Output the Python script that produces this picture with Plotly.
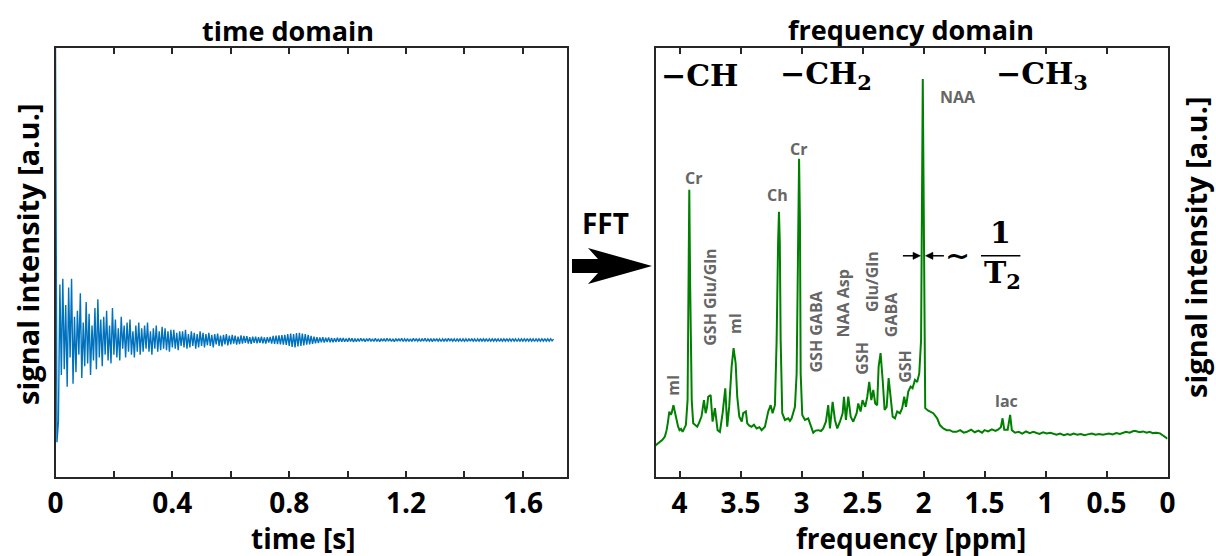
import plotly.graph_objects as go

# ---------------- data ----------------
FID_DT = 0.005  # sampling interval [s]
fid_amp = [
    1.0, -0.35, -0.28, 0.19, -0.12, 0.21, -0.10, 0.12, -0.16, 0.18, -0.06, 0.21, -0.15, 0.08, -0.11, 0.10, -0.05, 0.16, -0.13, 0.06,
    -0.09, 0.13, -0.08, 0.09, -0.12, 0.05, -0.07, 0.11, -0.10, 0.14, -0.06, 0.07, -0.09, 0.08, -0.05, 0.10, -0.07, 0.05, -0.08, 0.11,
    -0.05, 0.07, -0.06, 0.04, -0.07, 0.08, -0.03, 0.05, -0.06, 0.06, -0.04, 0.07, -0.05, 0.03, -0.06, 0.05, -0.04, 0.06, -0.05, 0.04,
    -0.04, 0.05, -0.03, 0.06, -0.04, 0.03, -0.05, 0.04, -0.03, 0.05, -0.04, 0.03, -0.035, 0.045, -0.03, 0.04, -0.035, 0.03, -0.04, 0.035,
    -0.025, 0.035, -0.03, 0.025, -0.035, 0.03, -0.02, 0.03, -0.025, 0.035, -0.03, 0.02, -0.025, 0.03, -0.02, 0.025, -0.03, 0.02, -0.025, 0.03,
    -0.02, 0.025, -0.025, 0.02, -0.018, 0.025, -0.02, 0.018, -0.025, 0.02, -0.015, 0.022, -0.02, 0.015, -0.022, 0.018, -0.015, 0.02, -0.018, 0.015,
    -0.015, 0.018, -0.012, 0.015, -0.016, 0.012, -0.014, 0.016, -0.012, 0.014, -0.010, 0.013, -0.012, 0.010, -0.013, 0.012, -0.010, 0.012, -0.011, 0.010,
    -0.010, 0.012, -0.011, 0.009, -0.012, 0.010, -0.009, 0.011, -0.012, 0.014, -0.013, 0.015, -0.014, 0.016, -0.015, 0.017, -0.016, 0.018, -0.017, 0.020,
    -0.020, 0.022, -0.024, 0.020, -0.025, 0.024, -0.022, 0.025, -0.020, 0.022, -0.018, 0.020, -0.016, 0.018, -0.015, 0.014, -0.013, 0.012, -0.011, 0.010,
    -0.010, 0.009, -0.008, 0.010, -0.009, 0.008, -0.007, 0.009, -0.008, 0.007, -0.008, 0.006, -0.007, 0.008, -0.006, 0.007, -0.006, 0.007, -0.006, 0.005,
    -0.006, 0.007, -0.005, 0.006, -0.007, 0.005, -0.006, 0.005, -0.005, 0.006, -0.004, 0.005, -0.006, 0.005, -0.004, 0.006, -0.005, 0.004, -0.005, 0.006,
    -0.005, 0.004, -0.006, 0.005, -0.004, 0.005, -0.005, 0.006, -0.004, 0.005, -0.005, 0.004, -0.006, 0.005, -0.004, 0.005, -0.004, 0.006, -0.005, 0.004,
    -0.004, 0.005, -0.005, 0.004, -0.005, 0.006, -0.004, 0.005, -0.004, 0.004, -0.005, 0.005, -0.004, 0.006, -0.005, 0.004, -0.004, 0.005, -0.006, 0.005,
    -0.004, 0.005, -0.004, 0.004, -0.005, 0.004, -0.004, 0.005, -0.005, 0.006, -0.004, 0.005, -0.004, 0.004, -0.005, 0.005, -0.004, 0.004, -0.005, 0.004,
    -0.004, 0.004, -0.005, 0.005, -0.004, 0.005, -0.004, 0.004, -0.005, 0.004, -0.004, 0.005, -0.004, 0.004, -0.004, 0.005, -0.005, 0.004, -0.004, 0.004,
    -0.004, 0.005, -0.004, 0.004, -0.005, 0.004, -0.004, 0.004, -0.004, 0.005, -0.004, 0.004, -0.004, 0.005, -0.004, 0.004, -0.005, 0.004, -0.004, 0.004,
    -0.004, 0.004, -0.004, 0.005, -0.004, 0.004, -0.004, 0.004, -0.005, 0.004, -0.004, 0.004, -0.004, 0.004, -0.004, 0.005, -0.004, 0.004, -0.004, 0.004,
    -0.003, 0.003,
]
fid_t = [i * FID_DT for i in range(len(fid_amp))]

spec_ppm = [
    4.197, 4.18, 4.16, 4.14, 4.12, 4.106, 4.095, 4.084, 4.072, 4.065, 4.05, 4.037, 4.024, 4.012, 4.0,
    3.988, 3.975, 3.96, 3.948, 3.934, 3.926, 3.920, 3.913, 3.90, 3.888, 3.872, 3.855, 3.84, 3.82, 3.80,
    3.786, 3.775, 3.765, 3.745, 3.729, 3.71, 3.70, 3.688, 3.669, 3.647, 3.625, 3.609, 3.593, 3.573, 3.557,
    3.54, 3.527, 3.51, 3.49, 3.478, 3.456, 3.445, 3.43, 3.41, 3.39, 3.368, 3.345, 3.327, 3.30, 3.273,
    3.253, 3.237, 3.218, 3.204, 3.192, 3.185, 3.178, 3.171, 3.158, 3.136, 3.109, 3.095, 3.081, 3.054, 3.04,
    3.028, 3.020, 3.013, 3.007, 2.994, 2.972, 2.945, 2.926, 2.904, 2.885, 2.863, 2.84, 2.822, 2.80, 2.781,
    2.767, 2.745, 2.726, 2.707, 2.685, 2.663, 2.652, 2.636, 2.617, 2.597, 2.576, 2.548, 2.535, 2.516, 2.50,
    2.478, 2.461, 2.445, 2.428, 2.412, 2.396, 2.38, 2.368, 2.352, 2.335, 2.319, 2.302, 2.286, 2.27, 2.253,
    2.234, 2.216, 2.193, 2.175, 2.158, 2.144, 2.125, 2.106, 2.09, 2.07, 2.052, 2.035, 2.02, 2.012, 2.006,
    2.000, 1.994, 1.986, 1.961, 1.94, 1.92, 1.888, 1.866, 1.838, 1.81, 1.784, 1.76, 1.729, 1.70, 1.67,
    1.644, 1.61, 1.58, 1.55, 1.52, 1.50, 1.47, 1.44, 1.41, 1.39, 1.366, 1.352, 1.338, 1.31, 1.29,
    1.276, 1.25, 1.22, 1.19, 1.16, 1.13, 1.10, 1.08, 1.05, 1.02, 0.99, 0.96, 0.94, 0.91, 0.88,
    0.85, 0.82, 0.797, 0.77, 0.74, 0.71, 0.68, 0.655, 0.62, 0.59, 0.56, 0.53, 0.514, 0.48, 0.45,
    0.42, 0.39, 0.373, 0.34, 0.31, 0.28, 0.26, 0.23, 0.20, 0.17, 0.147, 0.12, 0.09, 0.062, 0.04,
    0.02, 0.0,
]
spec_int = [
    7.0, 7.4, 7.9, 8.3, 9.1, 10.6, 12.5, 15.0, 14.2, 14.6, 16.5, 14.6, 13.0, 11.5, 10.6,
    10.9, 10.2, 11.0, 11.8, 17.7, 45.0, 67.4, 45.0, 17.7, 12.2, 11.9, 11.4, 12.3, 13.8, 17.7,
    14.6, 16.0, 18.5, 18.9, 12.6, 15.8, 13.0, 10.6, 10.2, 14.6, 20.5, 11.4, 16.1, 25.6, 30.0,
    26.4, 18.5, 13.8, 12.6, 14.6, 15.0, 12.2, 11.7, 11.4, 11.9, 11.0, 11.3, 10.6, 11.4, 15.0,
    16.5, 14.6, 16.5, 31.9, 55.0, 62.2, 55.0, 31.9, 14.6, 13.0, 13.4, 12.8, 13.4, 16.1, 24.0,
    60.0, 74.7, 60.0, 24.0, 14.2, 13.0, 13.4, 11.8, 10.0, 10.5, 10.6, 10.4, 11.0, 12.6, 16.5,
    11.0, 17.3, 13.0, 11.0, 12.6, 14.6, 18.5, 13.0, 18.5, 13.8, 12.6, 14.6, 16.9, 15.0, 17.7,
    16.1, 18.5, 22.0, 17.7, 20.1, 16.9, 16.5, 25.6, 28.8, 22.5, 15.4, 16.1, 22.9, 18.5, 13.8,
    13.4, 15.0, 14.6, 15.8, 18.5, 16.1, 19.7, 20.9, 20.5, 22.5, 22.0, 24.0, 31.9, 70.0, 93.6,
    70.0, 31.9, 15.8, 15.2, 14.9, 14.6, 13.4, 11.8, 11.0, 10.6, 10.6, 10.2, 10.2, 10.6, 10.0,
    10.2, 10.7, 10.1, 10.5, 10.0, 10.6, 10.3, 10.8, 10.4, 10.7, 11.3, 13.4, 10.7, 10.7, 14.2,
    10.6, 10.0, 10.2, 9.8, 10.3, 9.9, 10.2, 10.0, 9.7, 10.1, 9.8, 10.0, 9.85, 9.5, 9.8,
    9.4, 9.7, 9.46, 9.8, 9.5, 9.7, 9.4, 9.6, 9.8, 9.5, 9.7, 9.5, 9.6, 9.8, 9.6,
    9.9, 9.7, 9.9, 10.2, 10.0, 10.4, 10.4, 10.1, 10.3, 10.0, 10.2, 9.9, 10.0, 9.85, 9.4,
    9.0, 8.6,
]

time_ticks = [0, 0.4, 0.8, 1.2, 1.6]
time_ticklabels = ["0", "0.4", "0.8", "1.2", "1.6"]
ppm_ticks = [0, 0.5, 1, 1.5, 2, 2.5, 3, 3.5, 4]
ppm_ticklabels = ["0", "0.5", "1", "1.5", "2", "2.5", "3", "3.5", "4"]

# metabolite labels: (text, ppm, intensity, angle)
peak_labels = [
    ("NAA", 1.718, 89.4, 0),
    ("Cr", 3.887, 70.2, 0),
    ("Ch", 3.20, 66.2, 0),
    ("Cr", 3.021, 77.0, 0),
    ("GSH Glu/Gln", 3.751, 42.1, -90),
    ("mI", 3.546, 35.9, -90),
    ("mI", 4.054, 21.3, -90),
    ("GSH GABA", 2.885, 33.8, -90),
    ("NAA Asp", 2.661, 40.5, -90),
    ("GSH", 2.505, 27.7, -90),
    ("Glu/Gln", 2.428, 45.7, -90),
    ("GABA", 2.27, 37.9, -90),
    ("GSH", 2.152, 25.8, -90),
    ("lac", 1.319, 17.5, 0),
]
group_labels = [("\u2212CH", 3.833), ("\u2212CH<sub>2</sub>", 2.80), ("\u2212CH<sub>3</sub>", 1.03)]

# ---------------- figure ----------------
W, H = 1216, 556
def px(X):
    return X / W
def py(Y):
    return 1 - Y / H

AX = "#262626"
SANS = "Open Sans"
SERIF = "DejaVu Serif"
tickfont = dict(family=SANS, size=28, color="black", weight="bold")

fig = go.Figure()
fig.add_trace(go.Scatter(x=fid_t, y=fid_amp, mode="lines",
                         line=dict(color="#0072BD", width=1.4), xaxis="x", yaxis="y",
                         hoverinfo="skip"))
fig.add_trace(go.Scatter(x=spec_ppm, y=spec_int, mode="lines",
                         line=dict(color="#008000", width=2), xaxis="x2", yaxis="y2",
                         hoverinfo="skip"))

axis_common = dict(showline=True, linecolor=AX, linewidth=2, showgrid=False,
                   zeroline=False, automargin=False)
ydom = [py(477), py(48)]

fig.update_layout(
    width=W, height=H, margin=dict(l=0, r=0, t=0, b=0, autoexpand=False),
    plot_bgcolor="white", paper_bgcolor="white", showlegend=False,
    xaxis=dict(domain=[px(55.5), px(567)], range=[0, 1.751], tickvals=time_ticks,
               ticktext=time_ticklabels, ticks="inside", ticklen=6, tickwidth=1.5,
               tickcolor=AX, mirror="allticks", tickfont=tickfont, anchor="y",
               ticklabelstandoff=0,
               minor=dict(tick0=0, dtick=0.2, ticks="inside", ticklen=6, tickwidth=1.5,
                          tickcolor=AX, showgrid=False),
               **axis_common),
    yaxis=dict(domain=ydom, range=[-0.469, 1.0], showticklabels=False, ticks="",
               mirror=True, anchor="x", **axis_common),
    xaxis2=dict(domain=[px(655.5), px(1167.5)], range=[4.197, 0], tickvals=ppm_ticks,
                ticktext=ppm_ticklabels, ticks="inside", ticklen=6, tickwidth=1.5,
                tickcolor=AX, mirror="allticks", tickfont=tickfont, anchor="y2",
                ticklabelstandoff=0, **axis_common),
    yaxis2=dict(domain=ydom, range=[-0.47, 100.9], showticklabels=False, ticks="",
                mirror=True, anchor="x2", **axis_common),
)

ann = []
def paper_text(text, X, Y, size, angle=0, family=SANS, weight="bold", color="black"):
    ann.append(dict(text=text, x=px(X), y=py(Y), xref="paper", yref="paper",
                    xanchor="center", yanchor="middle", showarrow=False, textangle=angle,
                    font=dict(family=family, size=size, color=color, weight=weight)))

paper_text("time domain", 288, 30, 27)
paper_text("frequency domain", 911, 29, 27)
paper_text("time [s]", 303, 538, 28)
paper_text("frequency [ppm]", 911, 538, 28)
paper_text("signal intensity [a.u.]", 27, 254, 29, angle=-90)
paper_text("signal intensity [a.u.]", 1195, 247, 29, angle=-90)
paper_text("FFT", 605, 223, 28)

for text, xv, yv, ang in peak_labels:
    ann.append(dict(text=text, x=xv, y=yv, xref="x2", yref="y2", xanchor="center",
                    yanchor="middle", showarrow=False, textangle=ang,
                    font=dict(family=SANS, size=16, color="#666666", weight="bold")))

for text, xv in group_labels:
    ann.append(dict(text=text, x=xv, y=94.5, xref="x2", yref="y2", xanchor="center",
                    yanchor="middle", showarrow=False,
                    font=dict(family=SERIF, size=30, color="black", weight="bold")))

# linewidth annotation: tilde and 1/T2
ann.append(dict(text="\u223c", x=1.722, y=51.8, xref="x2", yref="y2", xanchor="center",
                yanchor="middle", showarrow=False,
                font=dict(family=SERIF, size=30, color="black", weight="bold")))
ann.append(dict(text="1", x=1.371, y=57.2, xref="x2", yref="y2", xanchor="center",
                yanchor="middle", showarrow=False,
                font=dict(family=SERIF, size=30, color="black", weight="bold")))
ann.append(dict(text="T<sub>2</sub>", x=1.35, y=47.3, xref="x2", yref="y2", xanchor="center",
                yanchor="middle", showarrow=False,
                font=dict(family=SERIF, size=30, color="black", weight="bold")))
fig.update_layout(annotations=ann)

YA = 51.8  # level of the linewidth arrows
shapes = [
    dict(type="line", xref="x2", yref="y2", x0=1.529, x1=1.206, y0=YA, y1=YA,
         line=dict(color="black", width=1.5)),
    # left arrow (pointing right, toward the NAA peak)
    dict(type="line", xref="x2", yref="y2", x0=2.169, x1=2.08, y0=YA, y1=YA,
         line=dict(color="black", width=1.5)),
    dict(type="path", xref="x2", yref="y2",
         path=f"M 2.086,{YA + 0.85} L 2.025,{YA} L 2.086,{YA - 0.85} Z",
         fillcolor="black", line=dict(color="black", width=0.5)),
    # right arrow (pointing left, toward the NAA peak)
    dict(type="line", xref="x2", yref="y2", x0=1.833, x1=1.93, y0=YA, y1=YA,
         line=dict(color="black", width=1.5)),
    dict(type="path", xref="x2", yref="y2",
         path=f"M 1.923,{YA + 0.85} L 1.984,{YA} L 1.923,{YA - 0.85} Z",
         fillcolor="black", line=dict(color="black", width=0.5)),
]
arrow_pts = [(572, 259), (598, 259), (588, 248), (652, 266), (588, 284), (598, 273), (572, 273)]
path = "M " + " L ".join(f"{px(a):.5f},{py(b):.5f}" for a, b in arrow_pts) + " Z"
shapes.append(dict(type="path", xref="paper", yref="paper", path=path,
                   fillcolor="black", line=dict(color="black", width=0)))
fig.update_layout(shapes=shapes)

fig.write_html("out.html", config={"displayModeBar": False},
               post_script="document.body.style.margin='0px';document.body.style.overflow='hidden';")
